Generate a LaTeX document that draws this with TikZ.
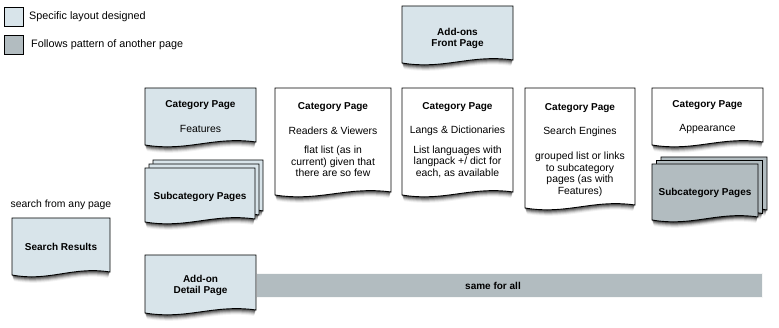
\documentclass[tikz,border=0pt]{standalone}
\usepackage{fontspec}
\setmainfont{Liberation Sans}
\definecolor{pageblue}{RGB}{216,228,234}
\definecolor{pagegray}{RGB}{178,188,192}
\newcommand\pgpath[4]{(#1,#2) -- (#3,#2) -- (#3,{#4-3}) .. controls ({#1+0.62*(#3-#1)},{#4-9}) and ({#1+0.38*(#3-#1)},{#4+7}) .. (#1,#4) -- cycle}
\newcommand\pgshadow[4]{%
  \foreach \sh/\op in {1/0.3,2/0.25,3/0.2,4/0.14,5/0.09,6/0.05}{%
    \fill[black,opacity=\op,yshift=-\sh pt] \pgpath{#1+0.3*\sh}{#2}{#3-0.3*\sh}{#4};}}
\newcommand\pgsheet[5]{%
  \pgshadow{#1}{#2}{#3}{#4}%
  \filldraw[fill=#5,draw=black,line width=0.9pt] \pgpath{#1}{#2}{#3}{#4};}
\newcommand\docpage[6]{%
  \pgsheet{#2}{#3}{#4}{#5}{#6}%
  \node[inner sep=0pt,minimum width={#4-#2},minimum height={#5-#3}] (#1) at ({(#2+#4)/2},{(#3+#5)/2}) {};}
\newcommand\docstack[8]{%
  \pgsheet{#2+2*#7}{#3-2*#8}{#4+2*#7}{#5-2*#8}{#6}%
  \pgsheet{#2+#7}{#3-#8}{#4+#7}{#5-#8}{#6}%
  \docpage{#1}{#2}{#3}{#4}{#5}{#6}}
\tikzset{
  ttl/.style={font=\fontsize{10}{12}\selectfont\bfseries,inner sep=0pt,align=center},
  sub/.style={font=\fontsize{10.4}{11.6}\selectfont,inner sep=0pt,align=center},
  legtxt/.style={font=\fontsize{10.8}{12}\selectfont,inner sep=0pt,anchor=west},
  legbox/.style={draw=black,line width=0.9pt,minimum width=19pt,minimum height=19pt,inner sep=0pt},
  barstyle/.style={fill=pagegray,draw=white!88!pagegray,line width=0.8pt,inner sep=0pt}
}
\begin{document}
\begin{tikzpicture}[x=1pt,y=-1pt]
\useasboundingbox (0,0) rectangle (779,328);
% legend
\node[legbox,fill=pageblue] (leg1) at (13.5,16.5) {};
\node[legtxt] (leg1t) at (29,17) {Specific layout designed};
\node[legbox,fill=pagegray] (leg2) at (13.5,45) {};
\node[legtxt] (leg2t) at (31,45) {Follows pattern of another page};
% front page
\docpage{front}{402}{6}{513}{63}{pageblue}
\node[ttl] (frontT) at (457.5,38) {Add-ons\\[-1pt]Front Page};
% features
\docpage{feat}{145}{88}{256}{145}{pageblue}
\node[ttl] (featT) at (200.5,105) {Category Page};
\node[sub] (featS) at (200.5,129) {Features};
\docstack{featsub}{145}{168}{255}{222}{pageblue}{4}{4}
\node[ttl] (featsubT) at (200,197) {Subcategory Pages};
% readers
\docpage{read}{275}{88}{391}{195}{white}
\node[ttl] (readT) at (333,107) {Category Page};
\node[sub] (readS) at (333,131) {Readers \& Viewers};
\node[sub] (readD) at (333,161.5) {flat list (as in\\current) given that\\there are so few};
% langs
\docpage{lang}{402}{88}{513}{195}{white}
\node[ttl] (langT) at (457.5,107) {Category Page};
\node[sub] (langS) at (457.5,131) {Langs \& Dictionaries};
\node[sub] (langD) at (457.5,161.5) {List languages with\\langpack +/ dict for\\each, as available};
% search engines
\docpage{srch}{525}{88}{635}{208}{white}
\node[ttl] (srchT) at (580,108) {Category Page};
\node[sub] (srchS) at (580,132) {Search Engines};
\node[sub] (srchD) at (580,174.5) {grouped list or links\\to subcategory\\pages (as with\\Features)};
% appearance
\docpage{appr}{652}{88}{763}{145}{white}
\node[ttl] (apprT) at (707.5,105) {Category Page};
\node[sub] (apprS) at (707.5,129) {Appearance};
\docstack{apprsub}{652}{164}{758}{220}{pagegray}{4.5}{3.5}
\node[ttl] (apprsubT) at (705,193) {Subcategory Pages};
% search results
\node[sub] (anyp) at (61,205) {search from any page};
\docpage{res}{12}{218}{110}{275}{pageblue}
\node[ttl] (resT) at (61,247) {Search Results};
% bar + detail
\node[barstyle,minimum width=506pt,minimum height=24pt,anchor=west] (bar) at (256,285) {};
\node[ttl] (barT) at (493,286) {same for all};
\docpage{det}{145}{255}{256}{313}{pageblue}
\node[ttl] (detT) at (200.5,285.5) {Add-on\\[-1pt]Detail Page};
\end{tikzpicture}
\end{document}
